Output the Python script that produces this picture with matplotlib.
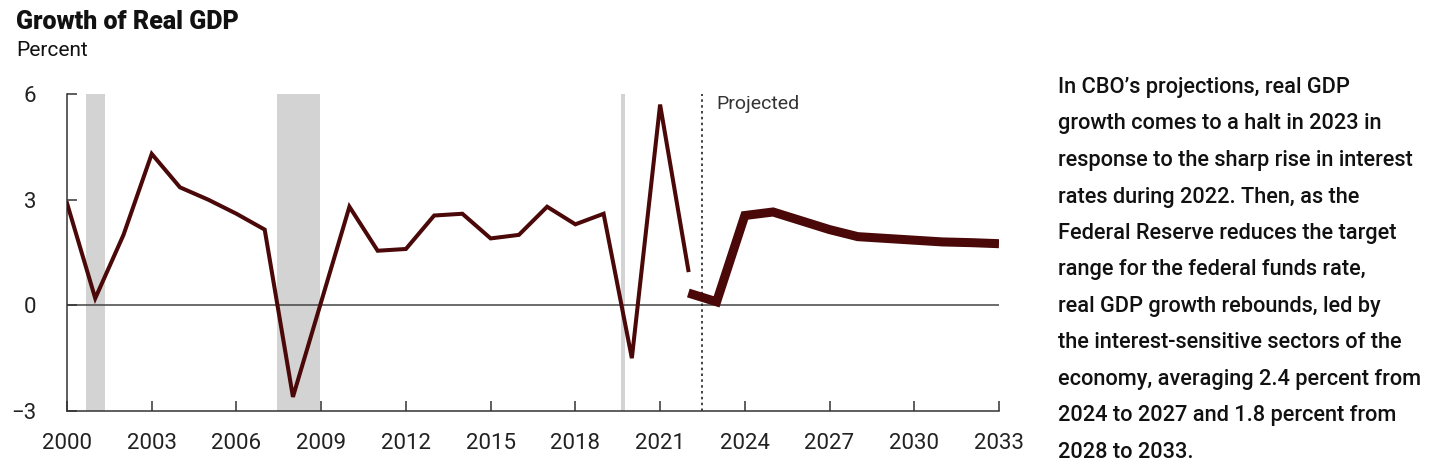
import matplotlib.pyplot as plt

plt.rcParams['font.family'] = ['Roboto', 'DejaVu Sans']

# Real GDP growth, percent
hist_years = list(range(2000, 2023))
hist_growth = [2.9, 0.2, 2.0, 4.3, 3.35, 3.0, 2.6, 2.15, -2.6, 0.1, 2.8, 1.55,
               1.6, 2.55, 2.6, 1.9, 2.0, 2.8, 2.3, 2.6, -1.5, 5.7, 1.0]

proj_years = list(range(2022, 2034))
proj_growth = [0.35, 0.1, 2.55, 2.65, 2.4, 2.15, 1.95, 1.9, 1.85, 1.8, 1.78, 1.75]

recessions = [(2000.66, 2001.33), (2007.44, 2008.95), (2019.6, 2019.77)]
x_ticks = list(range(2000, 2034, 3))
y_ticks = [-3, 0, 3, 6]
proj_start = 2022.5

note_lines = [
    "In CBO\u2019s projections, real GDP",
    "growth comes to a halt in 2023 in",
    "response to the sharp rise in interest",
    "rates during 2022. Then, as the",
    "Federal Reserve reduces the target",
    "range for the federal funds rate,",
    "real GDP growth rebounds, led by",
    "the interest-sensitive sectors of the",
    "economy, averaging 2.4 percent from",
    "2024 to 2027 and 1.8 percent from",
    "2028 to 2033.",
]

line_color = '#4a0808'

fig = plt.figure(figsize=(14.56, 4.70), dpi=100)
ax = fig.add_axes([67 / 1456, 1 - 411 / 470, (999 - 67) / 1456, (411 - 94) / 470])

for start, end in recessions:
    ax.axvspan(start, end, color='#d3d3d3', lw=0, zorder=0)

ax.axhline(0, color='#444444', lw=1.1, zorder=1)
ax.axvline(proj_start, color='#222222', lw=1.2, ls=(0, (1.5, 2)), zorder=1)

ax.plot(hist_years, hist_growth, color=line_color, lw=2.9,
        solid_joinstyle='miter', zorder=3)
ax.plot(proj_years, proj_growth, color=line_color, lw=6.5,
        solid_joinstyle='miter', solid_capstyle='butt', zorder=3)

ax.text(2023.0, 5.73, 'Projected', fontsize=14, color='#333333', va='center')

ax.set_xlim(2000, 2033)
ax.set_ylim(-3, 6)
ax.set_xticks(x_ticks)
ax.set_yticks(y_ticks)
ax.set_yticklabels(['\u22123', '0', '3', '6'])

for side in ['top', 'right']:
    ax.spines[side].set_visible(False)
for side in ['left', 'bottom']:
    ax.spines[side].set_color('#333333')
    ax.spines[side].set_linewidth(1.1)

ax.tick_params(axis='x', direction='in', length=7, width=1.1, color='#333333',
               labelsize=16, pad=16, labelcolor='#222222')
ax.tick_params(axis='y', direction='in', length=7, width=1.1, color='#333333',
               labelsize=16, pad=22, labelcolor='#222222')

fig.text(16 / 1456, 1 - 22 / 470, 'Growth of Real GDP', fontsize=18,
         fontweight='black', va='center', ha='left', color='#111111')
fig.text(16 / 1456, 1 - 50 / 470, 'Percent', fontsize=15, va='center',
         ha='left', color='#111111')

for i, line in enumerate(note_lines):
    y = 93 + i * 36.5
    fig.text(1058 / 1456, 1 - y / 470, line, fontsize=15.7, fontweight='medium',
             va='baseline', ha='left', color='#111111')

fig.savefig('out.png', dpi=100)
